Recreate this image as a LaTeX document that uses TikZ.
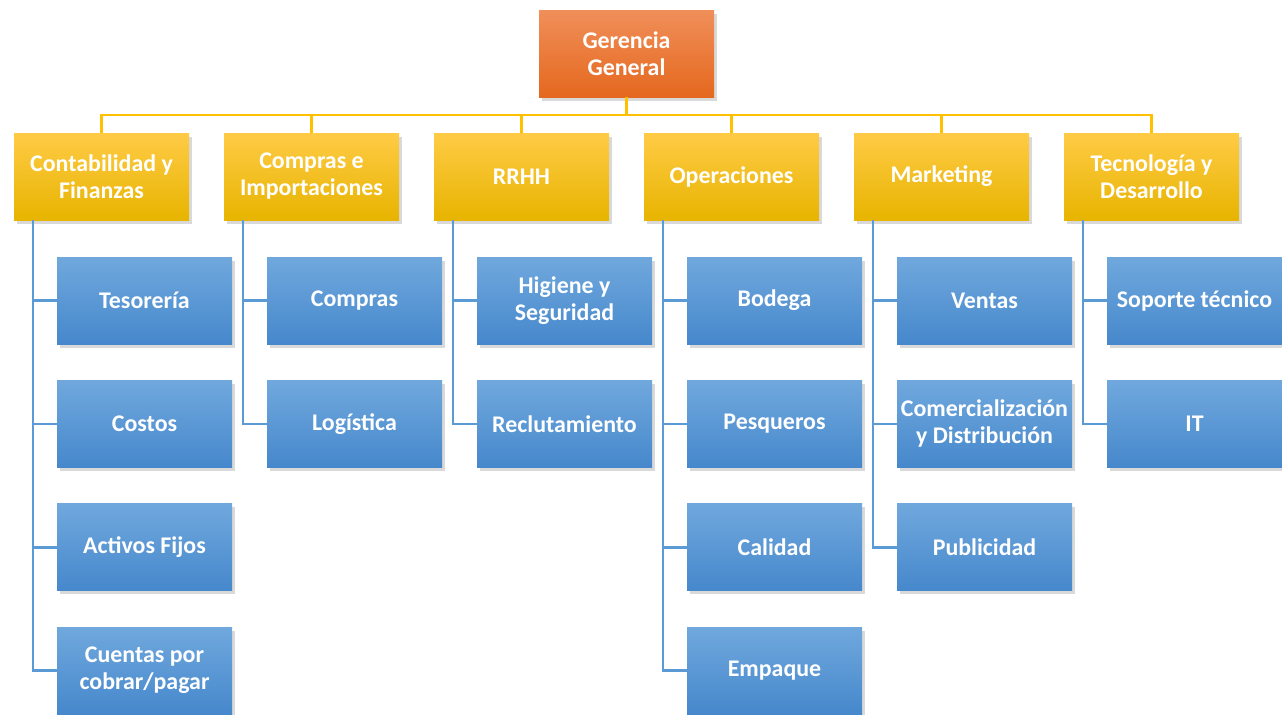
\documentclass[tikz,border=0pt]{standalone}
\usepackage{fontspec}
\setmainfont{Carlito}
\usepackage{xcolor}
\usepackage{tikz}
\usetikzlibrary{positioning,shadows}
\definecolor{orangetop}{RGB}{240,143,90}
\definecolor{orangebot}{RGB}{229,104,30}
\definecolor{yellowtop}{RGB}{255,203,70}
\definecolor{yellowmid}{RGB}{255,193,0}
\definecolor{yellowbot}{RGB}{231,180,0}
\definecolor{bluetop}{RGB}{112,168,221}
\definecolor{bluebot}{RGB}{70,136,204}
\definecolor{yline}{RGB}{255,192,0}
\definecolor{bline}{RGB}{91,155,213}
\tikzset{box/.style={rectangle,minimum width=3.5cm,minimum height=1.74cm,text width=3.45cm,inner sep=0pt,outer sep=0pt,align=flush center,text=white,font=\fontsize{13.6}{15.4}\selectfont\bfseries,drop shadow={shadow xshift=0.05cm,shadow yshift=-0.07cm,opacity=0.3}},
top node/.style={box,top color=orangetop,bottom color=orangebot},
area node/.style={box,top color=yellowtop,middle color=yellowmid,bottom color=yellowbot},
sub node/.style={box,top color=bluetop,bottom color=bluebot},
bus/.style={draw=yline,line width=1.6pt},
branch/.style={draw=bline,line width=1.5pt},}

\begin{document}
\begin{tikzpicture}
    \useasboundingbox (0,0) rectangle (25.64,-14.28);

    \node[top node] (gg) at (12.53,-1.07) {Gerencia\\General};

    \node[area node] (c1) at (2.03,-3.53) {Contabilidad y\\Finanzas};
    \node[area node] (c2) [right = .7cm of c1] {Compras e\\Importaciones};
    \node[area node] (c3) [right = .7cm of c2] {RRHH};
    \node[area node] (c4) [right = .7cm of c3] {Operaciones};
    \node[area node] (c5) [right = .7cm of c4] {Marketing};
    \node[area node] (c6) [right = .7cm of c5] {Tecnología y\\Desarrollo};

    % contabilidad
    \node[sub node] (c1a) [below = .74cm of c1, xshift=.86cm] {Tesorería};
    \node[sub node] (c1b) [below = .727cm of c1a] {Costos};
    \node[sub node] (c1c) [below = .727cm of c1b] {Activos Fijos};
    \node[sub node] (c1d) [below = .727cm of c1c] {Cuentas por\\cobrar/pagar};
    % compras
    \node[sub node] (c2a) [below = .74cm of c2, xshift=.86cm] {Compras};
    \node[sub node] (c2b) [below = .727cm of c2a] {Logística};
    % rrhh
    \node[sub node] (c3a) [below = .74cm of c3, xshift=.86cm] {Higiene y\\Seguridad};
    \node[sub node] (c3b) [below = .727cm of c3a] {Reclutamiento};
    % operaciones
    \node[sub node] (c4a) [below = .74cm of c4, xshift=.86cm] {Bodega};
    \node[sub node] (c4b) [below = .727cm of c4a] {Pesqueros};
    \node[sub node] (c4c) [below = .727cm of c4b] {Calidad};
    \node[sub node] (c4d) [below = .727cm of c4c] {Empaque};
    % marketing
    \node[sub node] (c5a) [below = .74cm of c5, xshift=.86cm] {Ventas};
    \node[sub node] (c5b) [below = .727cm of c5a] {Comercialización\\y Distribución};
    \node[sub node] (c5c) [below = .727cm of c5b] {Publicidad};
    % tecnologia
    \node[sub node] (c6a) [below = .74cm of c6, xshift=.86cm] {Soporte técnico};
    \node[sub node] (c6b) [below = .727cm of c6a] {IT};

    \path[bus]
    (gg.south) -- ++(0,-.36) -| (c1.north)
    (gg.south) -- ++(0,-.36) -| (c2.north)
    (gg.south) -- ++(0,-.36) -| (c3.north)
    (gg.south) -- ++(0,-.36) -| (c4.north)
    (gg.south) -- ++(0,-.36) -| (c5.north)
    (gg.south) -- ++(0,-.36) -| (c6.north)
    ;

    \path[branch]
    ([xshift=.38cm]c1.south west) |- (c1a) ([xshift=.38cm]c1.south west) |- (c1b)
    ([xshift=.38cm]c1.south west) |- (c1c) ([xshift=.38cm]c1.south west) |- (c1d)
    ([xshift=.38cm]c2.south west) |- (c2a) ([xshift=.38cm]c2.south west) |- (c2b)
    ([xshift=.38cm]c3.south west) |- (c3a) ([xshift=.38cm]c3.south west) |- (c3b)
    ([xshift=.38cm]c4.south west) |- (c4a) ([xshift=.38cm]c4.south west) |- (c4b)
    ([xshift=.38cm]c4.south west) |- (c4c) ([xshift=.38cm]c4.south west) |- (c4d)
    ([xshift=.38cm]c5.south west) |- (c5a) ([xshift=.38cm]c5.south west) |- (c5b)
    ([xshift=.38cm]c5.south west) |- (c5c)
    ([xshift=.38cm]c6.south west) |- (c6a) ([xshift=.38cm]c6.south west) |- (c6b)
    ;
\end{tikzpicture}
\end{document}
